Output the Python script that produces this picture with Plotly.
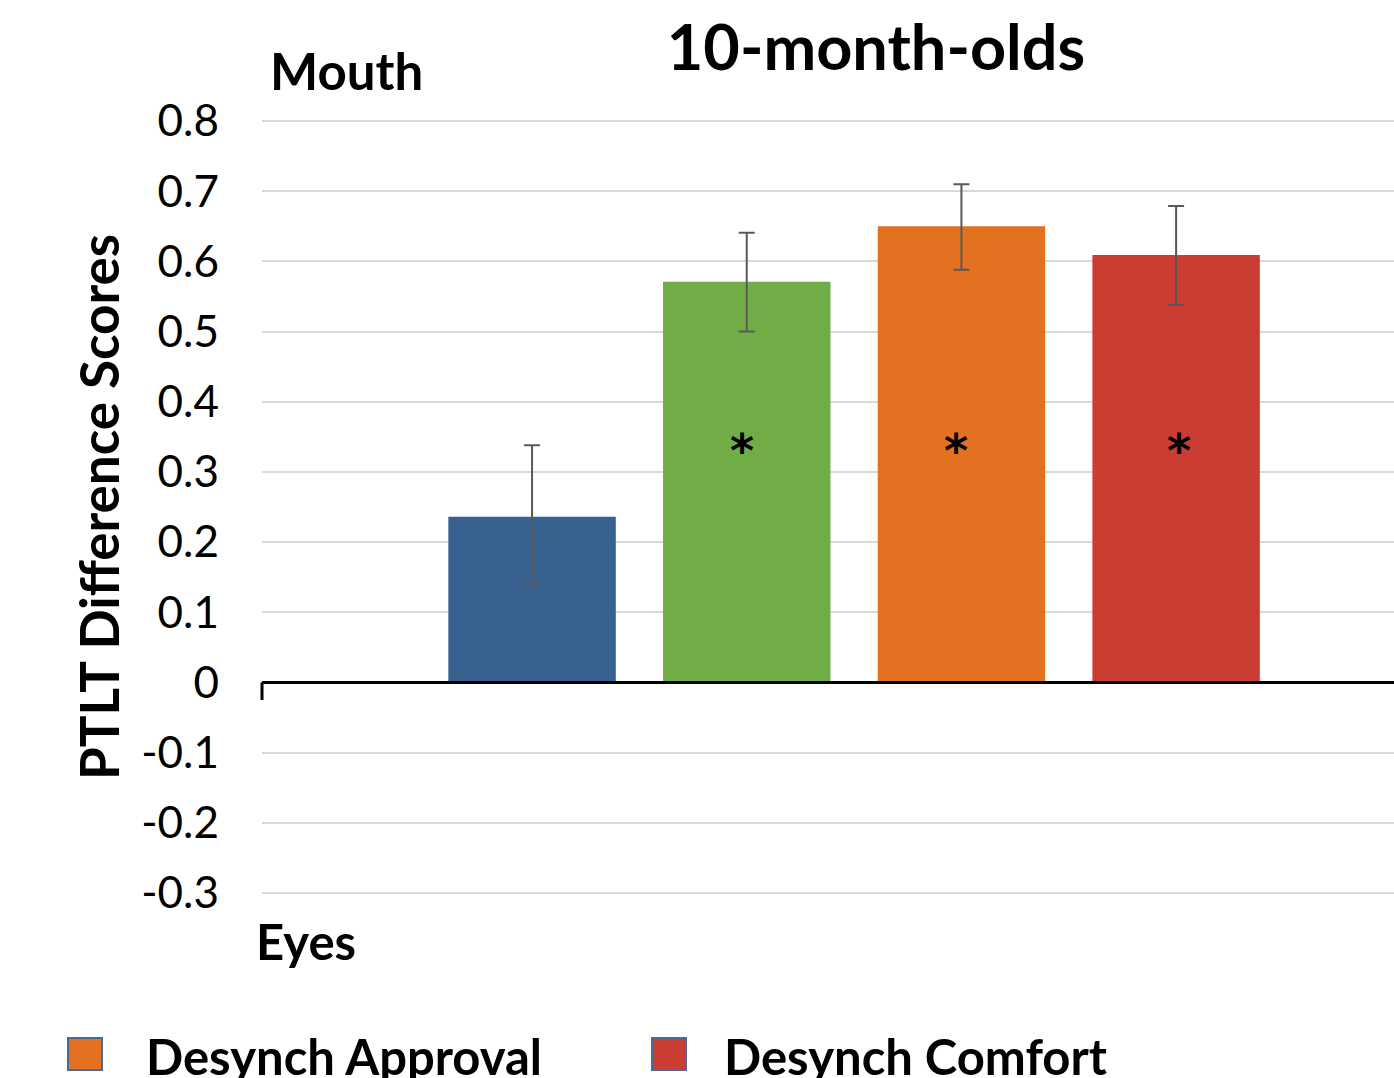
import plotly.graph_objects as go

series = ["Synch Approval", "Synch Comfort", "Desynch Approval", "Desynch Comfort"]
values = [0.236, 0.571, 0.650, 0.609]
err_hi = [0.102, 0.070, 0.060, 0.070]
err_lo = [0.097, 0.071, 0.062, 0.071]
colors = ["#37618F", "#70AD47", "#E3711F", "#CB3C33"]
significant = [False, True, True, True]
yticks = [0.8, 0.7, 0.6, 0.5, 0.4, 0.3, 0.2, 0.1, 0, -0.1, -0.2, -0.3]
legend_items = ["Desynch Approval", "Desynch Comfort"]
legend_colors = ["#E3711F", "#CB3C33"]

FONT = "Lato"
fig = go.Figure()
star_shift = [0, -5, -5, 3]
for i, (s, v) in enumerate(zip(series, values)):
    fig.add_trace(go.Bar(
        x=[i], y=[v], name=s, width=0.78, marker_color=colors[i], marker_line_width=0,
        error_y=dict(type="data", symmetric=False, array=[err_hi[i]], arrayminus=[err_lo[i]],
                     color="#595959", thickness=2, width=8),
        showlegend=False))
    if significant[i]:
        fig.add_annotation(x=i, y=0.33, xshift=star_shift[i], text="<b>*</b>", showarrow=False,
                           font=dict(family="DejaVu Sans", size=46, color="black"))

fig.update_layout(
    width=1394, height=1078, plot_bgcolor="white", paper_bgcolor="white",
    margin=dict(l=262, r=0, t=120, b=184),
    barmode="overlay",
    font=dict(family=FONT, color="black"),
    title=dict(text="<b>10-month-olds</b>", x=876/1394, xanchor="center", y=1-48/1078, yanchor="middle",
               font=dict(family=FONT, size=63, color="black")),
    xaxis=dict(range=[-1.258, 4.015], showticklabels=False, showgrid=False, zeroline=False, fixedrange=True),
    yaxis=dict(range=[-0.3015, 0.8015], tickvals=yticks, ticktext=[f"{t:g}" for t in yticks],
               tickfont=dict(family=FONT, size=44, color="black"), ticklabelstandoff=42,
               showgrid=True, gridcolor="#D9D9D9", gridwidth=2, zeroline=False, showline=False,
               title=dict(text="<b>PTLT Difference Scores</b>", font=dict(family=FONT, size=53, color="black"),
                          standoff=4)),
)
# zero axis line with small tick at left
fig.add_shape(type="line", xref="paper", yref="y", x0=0, x1=1, y0=0, y1=0, line=dict(color="black", width=3))
fig.add_shape(type="line", xref="paper", yref="y", x0=0, x1=0, y0=0, y1=-0.025, line=dict(color="black", width=3))

fig.add_annotation(xref="paper", yref="paper", x=(268-262)/1132, y=1+50/774, text="<b>Mouth</b>",
                   showarrow=False, xanchor="left", yanchor="middle", font=dict(family=FONT, size=51, color="black"))
fig.add_annotation(xref="paper", yref="paper", x=(254-262)/1132, y=-(941-894)/774, text="<b>Eyes</b>",
                   showarrow=False, xanchor="left", yanchor="middle", font=dict(family=FONT, size=49, color="black"))

# legend (partially cropped at bottom, as in the reference)
leg_x = [68, 652]
leg_tx = [144, 722]
for lx, tx, name, c in zip(leg_x, leg_tx, legend_items, legend_colors):
    fig.add_shape(type="rect", xref="paper", yref="paper",
                  x0=(lx-262)/1132, x1=(lx+34-262)/1132,
                  y0=-(1070-894)/774, y1=-(1038-894)/774,
                  fillcolor=c, line=dict(color="#4A6B94", width=2))
    fig.add_annotation(xref="paper", yref="paper", x=(tx-262)/1132, y=-(1056-894)/774, text=f"<b>{name}</b>",
                       showarrow=False, xanchor="left", yanchor="middle",
                       font=dict(family=FONT, size=49, color="black"))

fig.write_html("out.html", config={"displayModeBar": False},
               post_script="document.body.style.margin='0';document.body.style.overflow='hidden';")
